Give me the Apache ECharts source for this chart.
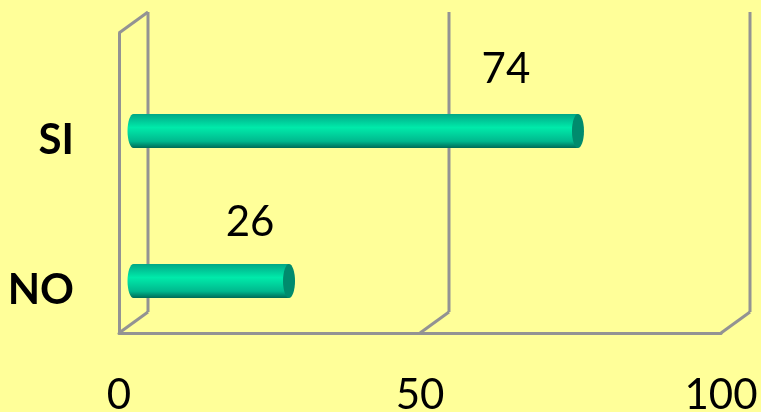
<!DOCTYPE html>
<html>
<head>
<meta charset="utf-8">
<style>
  html, body { margin: 0; padding: 0; background: #ffff99; }
  #chart { width: 761px; height: 412px; }
</style>
<script src="https://cdn.jsdelivr.net/npm/echarts@6/dist/echarts.min.js"></script>
</head>
<body>
<div id="chart"></div>
<script>
const categories = ['NO', 'SI']
const values = [26, 74]
const xTicks = [0, 50, 100]

// la profondita finta del grafico 3D, in pixel
const depthX = 29
const depthY = 21
const barDy = 23
const barRy = 17
const capRx = 6
const labelDx = [-39, -72]
const labelDy = [-59, -62]
const grey = '#939393'

const barFill = new echarts.graphic.LinearGradient(0, 0, 0, 1, [
  { offset: 0, color: '#00a886' },
  { offset: 0.4, color: '#00eaaa' },
  { offset: 0.8, color: '#00b98e' },
  { offset: 1, color: '#006b56' }
])

function renderWall(params, api) {
  const v = api.value(0)
  const sys = params.coordSys
  const x = api.coord([v, 0])[0]
  const top = sys.y
  const bottom = sys.y + sys.height
  const line = (x1, y1, x2, y2) => ({
    type: 'line',
    shape: { x1, y1, x2, y2 },
    style: { stroke: grey, lineWidth: 3, fill: null }
  })
  const children = [
    line(x, bottom, x + depthX, bottom - depthY),
    line(x + depthX, bottom - depthY, x + depthX, top - depthY)
  ]
  if (v === 0) children.push(line(x, top, x + depthX, top - depthY))
  return { type: 'group', children }
}

function renderBar(params, api) {
  const i = api.value(1)
  const end = api.coord([api.value(0), i])
  const x0 = api.coord([0, i])[0] + depthX / 2
  const x1 = end[0] + depthX / 2 - 1
  const cy = end[1] + barDy
  return {
    type: 'group',
    children: [
      { type: 'ellipse', shape: { cx: x0, cy, rx: capRx, ry: barRy }, style: { fill: barFill } },
      { type: 'rect', shape: { x: x0, y: cy - barRy, width: x1 - x0, height: barRy * 2 }, style: { fill: barFill } },
      { type: 'ellipse', shape: { cx: x1, cy, rx: capRx, ry: barRy }, style: { fill: '#008b6d' } },
      {
        type: 'text',
        x: x1 + labelDx[i],
        y: cy + labelDy[i],
        style: {
          text: String(api.value(0)),
          font: '42px Lato',
          fill: '#000',
          align: 'center',
          verticalAlign: 'middle'
        }
      }
    ]
  }
}

const chart = echarts.init(document.getElementById('chart'))
chart.setOption({
  animation: false,
  backgroundColor: '#ffff99',
  grid: { left: 119, right: 40, top: 33, bottom: 79, outerBoundsMode: 'none' },
  xAxis: {
    type: 'value',
    min: 0,
    max: 100,
    interval: 50,
    splitLine: { show: false },
    axisTick: { show: false },
    axisLine: { show: true, lineStyle: { color: grey, width: 3 } },
    axisLabel: {
      margin: 41,
      fontFamily: 'Lato',
      fontSize: 42,
      color: '#000',
      customValues: xTicks
    }
  },
  yAxis: {
    type: 'category',
    data: categories,
    axisTick: { show: false },
    axisLine: { show: true, lineStyle: { color: grey, width: 3 } },
    axisLabel: {
      margin: 45,
      fontFamily: 'Lato',
      fontWeight: 'bold',
      fontSize: 42,
      color: '#000',
      verticalAlign: 'top',
      lineHeight: 64
    }
  },
  series: [
    {
      type: 'custom',
      data: xTicks.map(v => [v]),
      encode: { x: 0 },
      renderItem: renderWall,
      silent: true,
      z: 1
    },
    {
      type: 'custom',
      data: values.map((v, i) => [v, i]),
      encode: { x: 0, y: 1 },
      renderItem: renderBar,
      z: 2
    }
  ]
})
</script>
</body>
</html>
